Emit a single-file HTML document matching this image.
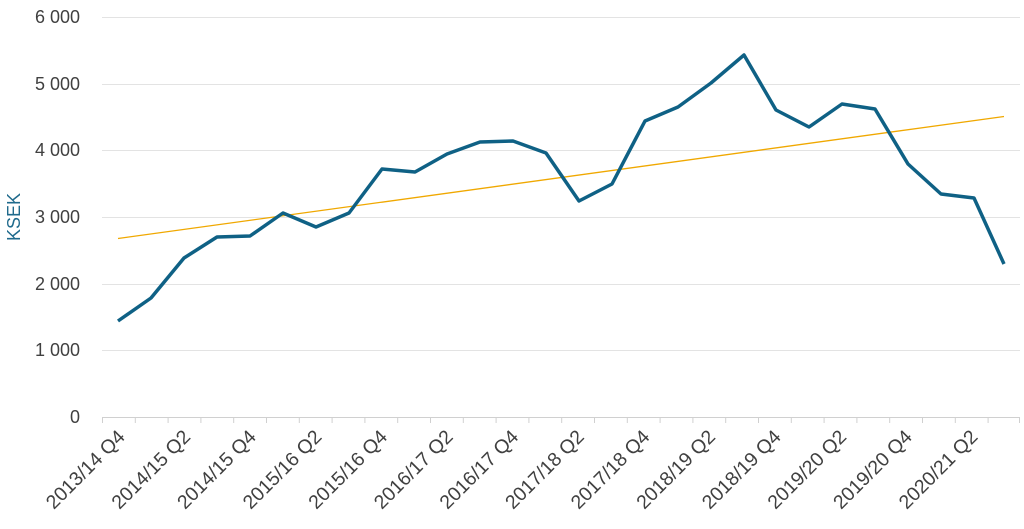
<!DOCTYPE html>
<html><head><style>body{margin:0;background:#fff}svg{display:block}text{font-family:"Liberation Sans",sans-serif;fill:#404040}</style></head><body>
<svg width="1024" height="529" viewBox="0 0 1024 529" xmlns="http://www.w3.org/2000/svg">
<g stroke="#e3e3e3" stroke-width="1">
<line x1="102" x2="1020" y1="17.5" y2="17.5"/><line x1="102" x2="1020" y1="84.5" y2="84.5"/><line x1="102" x2="1020" y1="150.5" y2="150.5"/><line x1="102" x2="1020" y1="217.5" y2="217.5"/><line x1="102" x2="1020" y1="284.5" y2="284.5"/><line x1="102" x2="1020" y1="350.5" y2="350.5"/>
<line x1="102" x2="1020" y1="417.5" y2="417.5" stroke="#d0d0d0"/>
</g>
<path stroke="#d0d0d0" fill="none" d="M102.5 417v6M135.3 417v6M168.1 417v6M200.9 417v6M233.7 417v6M266.5 417v6M299.3 417v6M332.1 417v6M364.9 417v6M397.7 417v6M430.5 417v6M463.3 417v6M496.1 417v6M528.9 417v6M561.7 417v6M594.5 417v6M627.3 417v6M660.1 417v6M692.9 417v6M725.7 417v6M758.5 417v6M791.3 417v6M824.1 417v6M856.9 417v6M889.7 417v6M922.5 417v6M955.3 417v6M988.1 417v6M1019.5 417v6"/>
<g font-size="18" text-anchor="end">
<text x="80" y="23">6 000</text><text x="80" y="90">5 000</text><text x="80" y="156">4 000</text><text x="80" y="223">3 000</text><text x="80" y="290">2 000</text><text x="80" y="356">1 000</text><text x="80" y="423">0</text>
</g>
<text x="20" y="217" font-size="18" style="fill:#1f6a8c" transform="rotate(-90 20 217)" text-anchor="middle">KSEK</text>
<g font-size="19.5" text-anchor="end">
<text x="126" y="438" transform="rotate(-45 126 438)">2013/14 Q4</text>
<text x="191.6" y="438" transform="rotate(-45 191.6 438)">2014/15 Q2</text>
<text x="257.2" y="438" transform="rotate(-45 257.2 438)">2014/15 Q4</text>
<text x="322.8" y="438" transform="rotate(-45 322.8 438)">2015/16 Q2</text>
<text x="388.4" y="438" transform="rotate(-45 388.4 438)">2015/16 Q4</text>
<text x="454" y="438" transform="rotate(-45 454 438)">2016/17 Q2</text>
<text x="519.6" y="438" transform="rotate(-45 519.6 438)">2016/17 Q4</text>
<text x="585.2" y="438" transform="rotate(-45 585.2 438)">2017/18 Q2</text>
<text x="650.8" y="438" transform="rotate(-45 650.8 438)">2017/18 Q4</text>
<text x="716.4" y="438" transform="rotate(-45 716.4 438)">2018/19 Q2</text>
<text x="782" y="438" transform="rotate(-45 782 438)">2018/19 Q4</text>
<text x="847.6" y="438" transform="rotate(-45 847.6 438)">2019/20 Q2</text>
<text x="913.2" y="438" transform="rotate(-45 913.2 438)">2019/20 Q4</text>
<text x="978.8" y="438" transform="rotate(-45 978.8 438)">2020/21 Q2</text>
</g>
<line x1="118" y1="238.5" x2="1004" y2="116.5" stroke="#f0a800" stroke-width="1.3"/>
<polyline fill="none" stroke="#0f6185" stroke-width="3.5" stroke-linejoin="round" points="118,321 151,298 184,258 217,237 250,236 283,213 316,227 349,213 382,169 415,172 447,154 480,142 513,141 546,153 579,201 612,184 645,121 678,107 711,83 744,55 776,110 809,127 842,104 875,109 908,164 941,194 974,198 1004,264"/>
</svg>
</body></html>
